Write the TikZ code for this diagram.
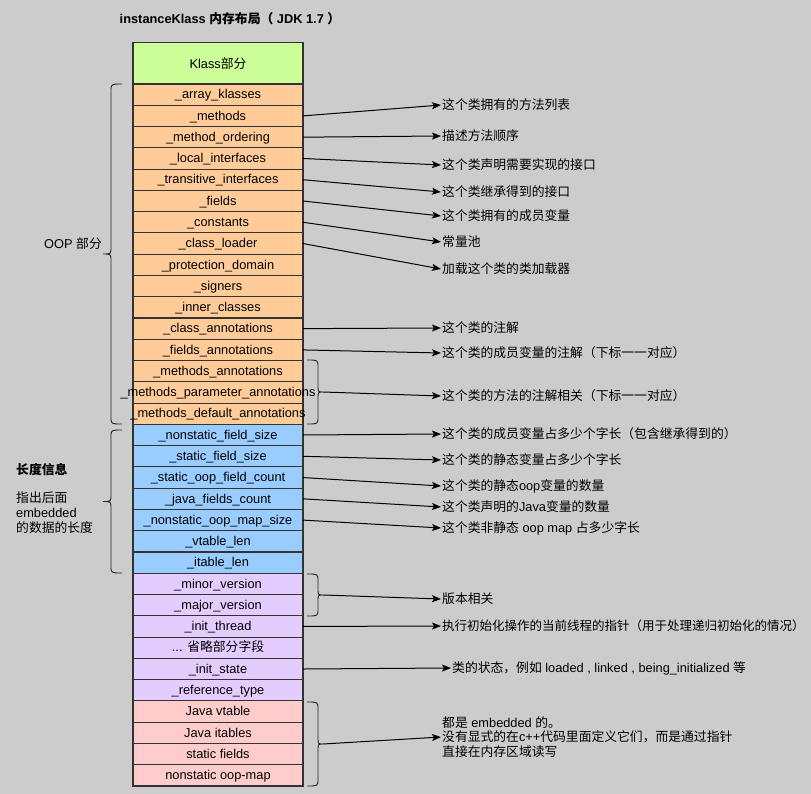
\documentclass[tikz,border=0pt]{standalone}
\usepackage{fontspec}
\setmainfont{Liberation Sans}
\newfontfamily\cjk{Noto Sans CJK SC}
\usetikzlibrary{arrows.meta}
\definecolor{bgc}{HTML}{CCCCCC}
\definecolor{bordc}{HTML}{333333}
\definecolor{grc}{HTML}{CCFF99}
\definecolor{orc}{HTML}{FFCC99}
\definecolor{blc}{HTML}{99CCFF}
\definecolor{puc}{HTML}{E5CCFF}
\definecolor{pkc}{HTML}{FFCCCC}
\newcommand\BrL[5]{%
  \draw[brc] (#1,#4) .. controls (#2,#4) .. (#2,#4+7) -- (#2,{(#4+#5)/2-7})
    .. controls (#2,{(#4+#5)/2}) .. (#3,{(#4+#5)/2})
    .. controls (#2,{(#4+#5)/2}) .. (#2,{(#4+#5)/2+7}) -- (#2,#5-7)
    .. controls (#2,#5) .. (#1,#5);}
\begin{document}
\begin{tikzpicture}[x=1pt,y=-1pt,
  font=\fontsize{12.8}{15}\selectfont,
  rowbox/.style={draw=bordc, line width=1.1pt, minimum width=170pt, minimum height=21.273pt,
    inner sep=0pt, outer sep=0pt, anchor=north, text height=10pt, text depth=1.5pt},
  lab/.style={anchor=west, inner sep=1pt},
  arr/.style={-{Stealth[length=9pt,width=7pt,inset=2pt]}, line width=1pt, draw=black},
  brc/.style={draw=black!85, line width=0.9pt}]
\useasboundingbox[fill=bgc] (0,0) rectangle (811,794);

% title
\node[font=\fontsize{12.8}{15}\selectfont\bfseries] (title) at (230,19)
  {instanceKlass {\cjk 内存布局（} JDK 1.7 {\cjk ）}};

% Klass part
\node[draw=bordc, line width=1.1pt, fill=grc, minimum width=170pt, minimum height=42pt,
  inner sep=0pt, anchor=north] (klass) at (218,42) {Klass{\cjk 部分}};

% rows
\foreach \i/\t/\c in {
  1/\_array\_klasses/orc,
  2/\_methods/orc,
  3/\_method\_ordering/orc,
  4/\_local\_interfaces/orc,
  5/\_transitive\_interfaces/orc,
  6/\_fields/orc,
  7/\_constants/orc,
  8/\_class\_loader/orc,
  9/\_protection\_domain/orc,
  10/\_signers/orc,
  11/\_inner\_classes/orc,
  12/\_class\_annotations/orc,
  13/\_fields\_annotations/orc,
  14/\_methods\_annotations/orc,
  15/\_methods\_parameter\_annotations/orc,
  16/\_methods\_default\_annotations/orc,
  17/\_nonstatic\_field\_size/blc,
  18/\_static\_field\_size/blc,
  19/\_static\_oop\_field\_count/blc,
  20/\_java\_fields\_count/blc,
  21/\_nonstatic\_oop\_map\_size/blc,
  22/\_vtable\_len/blc,
  23/\_itable\_len/blc,
  24/\_minor\_version/puc,
  25/\_major\_version/puc,
  26/\_init\_thread/puc,
  27/{... {\cjk 省略部分字段}}/puc,
  28/\_init\_state/puc,
  29/\_reference\_type/puc,
  30/Java vtable/pkc,
  31/Java itables/pkc,
  32/static fields/pkc,
  33/nonstatic oop-map/pkc}
{
  \node[rowbox, fill=\c] (r\i) at (218,{84+(\i-1)*21.273}) {\makebox[0pt]{\t}};
}

% braces
\BrL{122}{111}{103}{84}{424}
\BrL{122}{111}{103}{430}{573}
\BrL{307}{318}{323}{360}{424}
\BrL{307}{318}{323}{574}{616}
\BrL{307}{318}{323}{702}{786}
\coordinate (bm) at (323,392);
\coordinate (bv) at (323,595);
\coordinate (bp) at (323,744);

% left labels
\node[anchor=west, inner sep=0pt] (oop) at (44,244) {OOP {\cjk 部分}};
\node[anchor=west, inner sep=0pt, font=\fontsize{12.8}{15}\selectfont\bfseries] (len) at (16,470) {{\cjk 长度信息}};
\node[anchor=west, inner sep=0pt, align=left] (lendesc) at (16,513)
  {{\cjk 指出后面}\\embedded\\{\cjk 的数据的长度}};

% right labels
\node[lab] (t2) at (441,105) {{\cjk 这个类拥有的方法列表}};
\node[lab] (t3) at (441,136) {{\cjk 描述方法顺序}};
\node[lab] (t4) at (441,165) {{\cjk 这个类声明需要实现的接口}};
\node[lab] (t5) at (441,192) {{\cjk 这个类继承得到的接口}};
\node[lab] (t6) at (441,216) {{\cjk 这个类拥有的成员变量}};
\node[lab] (t7) at (441,242) {{\cjk 常量池}};
\node[lab] (t8) at (441,269) {{\cjk 加载这个类的类加载器}};
\node[lab] (t12) at (441,328) {{\cjk 这个类的注解}};
\node[lab] (t13) at (441,353) {{\cjk 这个类的成员变量的注解（下标一一对应）}};
\node[lab] (tm) at (441,396) {{\cjk 这个类的方法的注解相关（下标一一对应）}};
\node[lab] (t17) at (441,434) {{\cjk 这个类的成员变量占多少个字长（包含继承得到的）}};
\node[lab] (t18) at (441,460) {{\cjk 这个类的静态变量占多少个字长}};
\node[lab] (t19) at (441,486) {{\cjk 这个类的静态}oop{\cjk 变量的数量}};
\node[lab] (t20) at (441,507) {{\cjk 这个类声明的}Java{\cjk 变量的数量}};
\node[lab] (t21) at (441,528) {{\cjk 这个类非静态} oop map {\cjk 占多少字长}};
\node[lab] (tv) at (441,599) {{\cjk 版本相关}};
\node[lab, font=\fontsize{12.5}{15}\selectfont] (t26) at (441,626) {{\cjk 执行初始化操作的当前线程的指针（用于处理递归初始化的情况）}};
\node[lab] (t28) at (451,668) {{\cjk 类的状态，例如} loaded , linked , being\_initialized {\cjk 等}};
\node[lab, align=left, font=\fontsize{12.8}{14.5}\selectfont] (tp) at (441,737)
  {{\cjk 都是} embedded {\cjk 的。}\\{\cjk 没有显式的在}c++{\cjk 代码里面定义它们，而是通过指针}\\{\cjk 直接在内存区域读写}};

% connectors
\draw[arr] (r2.east) -- (t2.west);
\draw[arr] (r3.east) -- (t3.west);
\draw[arr] (r4.east) -- (t4.west);
\draw[arr] (r5.east) -- (t5.west);
\draw[arr] (r6.east) -- (t6.west);
\draw[arr] (r7.east) -- (t7.west);
\draw[arr] (r8.east) -- (t8.west);
\draw[arr] (r12.east) -- (t12.west);
\draw[arr] (r13.east) -- (t13.west);
\draw[arr] (bm) -- (tm.west);
\draw[arr] (r17.east) -- (t17.west);
\draw[arr] (r18.east) -- (t18.west);
\draw[arr] (r19.east) -- (t19.west);
\draw[arr] (r20.east) -- (t20.west);
\draw[arr] (r21.east) -- (t21.west);
\draw[arr] (bv) -- (tv.west);
\draw[arr] (r26.east) -- (t26.west);
\draw[arr] (r28.east) -- (t28.west);
\draw[arr] (bp) -- (tp.west);
\end{tikzpicture}
\end{document}
